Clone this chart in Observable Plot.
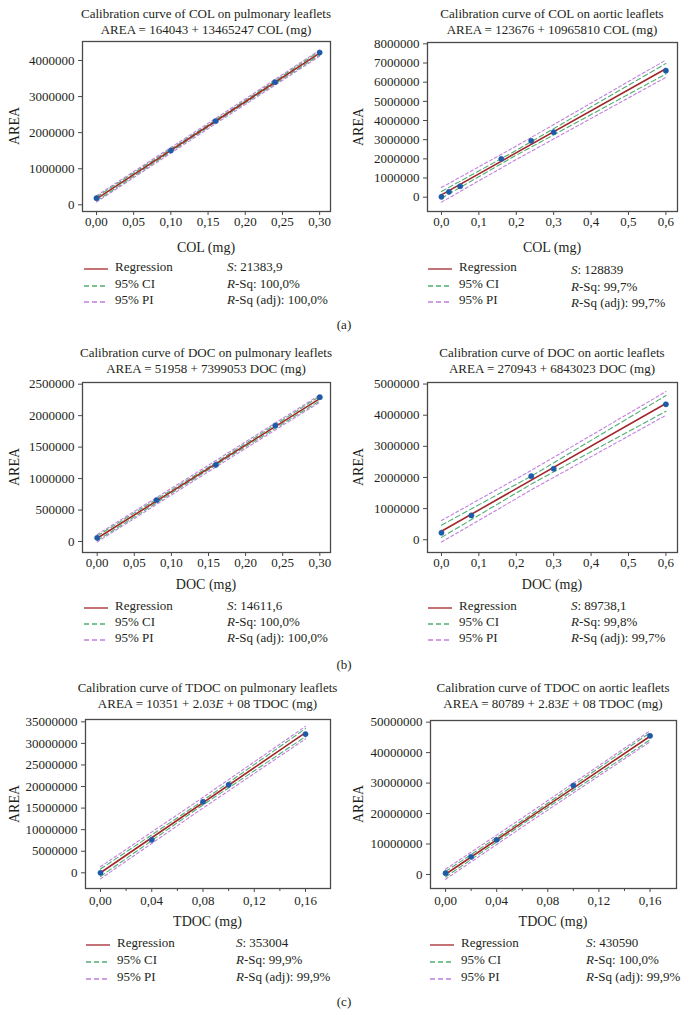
<!DOCTYPE html>
<html><head><meta charset="utf-8">
<script src="https://cdn.jsdelivr.net/npm/d3@7"></script>
<script src="https://cdn.jsdelivr.net/npm/@observablehq/plot@0.6"></script>
<style>
body{margin:0;background:#fff;}
#root{position:relative;width:688px;height:1028px;overflow:hidden;font-family:"Liberation Serif","Times New Roman",serif;color:#231f20;background:#fff;}
.abs{position:absolute;white-space:nowrap;}
.title{font-size:13px;line-height:16px;text-align:center;}
.axl{font-size:14px;line-height:16px;text-align:center;}
.leg{font-size:13px;line-height:16px;}
.plotbox{position:absolute;}
</style></head><body><div id="root"></div>
<script>
// ---------- data ----------
const titles = [
  "Calibration curve of COL on pulmonary leaflets",
  "Calibration curve of COL on aortic leaflets",
  "Calibration curve of DOC on pulmonary leaflets",
  "Calibration curve of DOC on aortic leaflets",
  "Calibration curve of TDOC on pulmonary leaflets",
  "Calibration curve of TDOC on aortic leaflets"
];
const equations = [
  "AREA = 164043 + 13465247 COL (mg)",
  "AREA = 123676 + 10965810 COL (mg)",
  "AREA = 51958 + 7399053 DOC (mg)",
  "AREA = 270943 + 6843023 DOC (mg)",
  "AREA = 10351 + 2.03E + 08 TDOC (mg)",
  "AREA = 80789 + 2.83E + 08 TDOC (mg)"
];
const xLabels = ["COL (mg)", "COL (mg)", "DOC (mg)", "DOC (mg)", "TDOC (mg)", "TDOC (mg)"];
const yLabel = "AREA";
const panelTags = ["(a)", "(b)", "(c)"];
const intercepts = [164043, 123676, 51958, 270943, 10351, 80789];
const slopes = [13465247, 10965810, 7399053, 6843023, 2.03e8, 2.83e8];

// measured calibration points
const colPulmX = [0, 0.10, 0.16, 0.24, 0.30];
const colPulmY = [185000, 1506000, 2320000, 3400000, 4220000];
const colAortX = [0, 0.02, 0.05, 0.16, 0.24, 0.30, 0.60];
const colAortY = [20000, 280000, 570000, 2000000, 2940000, 3390000, 6600000];
const docPulmX = [0, 0.08, 0.16, 0.24, 0.30];
const docPulmY = [58000, 657000, 1218000, 1843000, 2293000];
const docAortX = [0, 0.08, 0.24, 0.30, 0.60];
const docAortY = [225000, 780000, 2040000, 2280000, 4350000];
const tdocPulmX = [0, 0.04, 0.08, 0.10, 0.16];
const tdocPulmY = [0, 7650000, 16460000, 20400000, 32150000];
const tdocAortX = [0, 0.02, 0.04, 0.10, 0.16];
const tdocAortY = [440000, 5800000, 11400000, 29200000, 45500000];

// half-widths of the 95% CI / PI bands read at [first x, mean x, last x]
const bandX = [[0, 0.16, 0.30], [0, 0.196, 0.60], [0, 0.156, 0.30], [0, 0.244, 0.60], [0, 0.076, 0.16], [0, 0.064, 0.16]];
const ciHalf = [[55000, 30000, 51000], [175000, 125000, 275000], [37000, 21000, 35000], [196000, 127000, 253000], [860000, 500000, 925000], [910000, 610000, 1180000]];
const piHalf = [[87000, 74000, 84000], [380000, 350000, 450000], [59000, 51000, 58000], [346000, 312000, 381000], [1410000, 1230000, 1455000], [1640000, 1500000, 1810000]];

// statistics
const sValues = ["21383,9", "128839", "14611,6", "89738,1", "353004", "430590"];
const rSq = ["100,0%", "99,7%", "100,0%", "99,8%", "99,9%", "100,0%"];
const rSqAdj = ["100,0%", "99,7%", "100,0%", "99,7%", "99,9%", "99,9%"];
const legendNames = ["Regression", "95% CI", "95% PI"];

// ticks
const yTicksList = [
  [0, 1000000, 2000000, 3000000, 4000000],
  [0, 1000000, 2000000, 3000000, 4000000, 5000000, 6000000, 7000000, 8000000],
  [0, 500000, 1000000, 1500000, 2000000, 2500000],
  [0, 1000000, 2000000, 3000000, 4000000, 5000000],
  [0, 5000000, 10000000, 15000000, 20000000, 25000000, 30000000, 35000000],
  [0, 10000000, 20000000, 30000000, 40000000, 50000000]
];
const xTicksPulm = [0, 0.05, 0.10, 0.15, 0.20, 0.25, 0.30];
const xTicksAort = [0, 0.1, 0.2, 0.3, 0.4, 0.5, 0.6];
const xTicksTdoc = [0, 0.04, 0.08, 0.12, 0.16];
const xMinorTdoc = [0.02, 0.06, 0.10, 0.14];

// ---------- layout ----------
const xsList = [colPulmX, colAortX, docPulmX, docAortX, tdocPulmX, tdocAortX];
const ysList = [colPulmY, colAortY, docPulmY, docAortY, tdocPulmY, tdocAortY];
const xTicksList = [xTicksPulm, xTicksAort, xTicksPulm, xTicksAort, xTicksTdoc, xTicksTdoc];
const xDecimals = [2, 1, 2, 1, 2, 2];
const frames = [
  {col: 0,   L: 82,  R: 330, T: 41,  B: 211, xd: [-0.0188, 0.3146], yd: [-185000, 4526000], t1: 14,  xl: 248, leg: [267, 284, 300], sx: 227, pad: 1},
  {col: 344, L: 427, R: 677, T: 42,  B: 211, xd: [-0.0373, 0.631],  yd: [-746000, 8070000], t1: 14,  xl: 248, leg: [267, 284, 300], sx: 571, pad: 1},
  {col: 0,   L: 82,  R: 330, T: 382, B: 552, xd: [-0.0198, 0.3144], yd: [-175000, 2527000], t1: 353, xl: 585, leg: [606, 622, 638], sx: 227, pad: 1},
  {col: 344, L: 427, R: 677, T: 382, B: 552, xd: [-0.0373, 0.631],  yd: [-410000, 5050000], t1: 353, xl: 585, leg: [606, 622, 638], sx: 571, pad: 1},
  {col: 0,   L: 85,  R: 330, T: 719, B: 888, xd: [-0.0117, 0.1795], yd: [-3640000, 35540000], t1: 688, xl: 922, leg: [943, 960, 977], sx: 236, pad: 3},
  {col: 344, L: 430, R: 676, T: 720, B: 888, xd: [-0.0118, 0.1807], yd: [-4600000, 50540000], t1: 688, xl: 922, leg: [943, 960, 977], sx: 586, pad: 3}
];
const tagY = [325, 665, 1002];

const C_REG = "#a3262a", C_CI = "#4fae72", C_PI = "#c17fe0", C_PT = "#1f5aa6";

const root = document.getElementById("root");
function addDiv(cls, html, style) {
  const d = document.createElement("div");
  d.className = "abs " + cls;
  d.innerHTML = html;
  Object.assign(d.style, style);
  root.appendChild(d);
  return d;
}

frames.forEach((f, i) => {
  const xs = xsList[i], ys = ysList[i];
  const pts = xs.map((x, k) => ({x, y: ys[k]}));
  const a = intercepts[i], b = slopes[i];
  const bx = bandX[i];
  const reg = [bx[0], bx[2]].map(x => ({x, y: a + b * x}));
  const band = (half, sign) => bx.map((x, k) => ({x, y: a + b * x + sign * half[i][k]}));
  const mt = 8, mb = 24;
  const fmtX = d => d.toFixed(xDecimals[i]).replace(".", ",");
  const marks = [
    Plot.line(band(piHalf, 1), {x: "x", y: "y", stroke: C_PI, strokeWidth: 1.1, strokeDasharray: "3,2.5"}),
    Plot.line(band(piHalf, -1), {x: "x", y: "y", stroke: C_PI, strokeWidth: 1.1, strokeDasharray: "3,2.5"}),
    Plot.line(band(ciHalf, 1), {x: "x", y: "y", stroke: C_CI, strokeWidth: 1.1, strokeDasharray: "5,3"}),
    Plot.line(band(ciHalf, -1), {x: "x", y: "y", stroke: C_CI, strokeWidth: 1.1, strokeDasharray: "5,3"}),
    Plot.line(reg, {x: "x", y: "y", stroke: C_REG, strokeWidth: 1.6}),
    Plot.dot(pts, {x: "x", y: "y", r: 2.6, fill: C_PT, stroke: C_PT, strokeWidth: 0.6}),
    Plot.frame({stroke: "#4a4a4a", strokeWidth: 1.3}),
    Plot.axisX({ticks: xTicksList[i], tickFormat: fmtX, tickSize: 4, tickPadding: f.pad, label: null, stroke: "#4a4a4a"}),
    Plot.axisY({ticks: yTicksList[i], tickFormat: d3.format("d"), tickSize: 4, tickPadding: 4, label: null, stroke: "#4a4a4a"})
  ];
  if (i >= 4) marks.push(Plot.axisX({ticks: xMinorTdoc, tickFormat: () => "", tickSize: 3, label: null, stroke: "#4a4a4a"}));
  const chart = Plot.plot({
    width: 344,
    height: (f.B - f.T) + mt + mb,
    marginTop: mt, marginBottom: mb,
    marginLeft: f.L - f.col, marginRight: f.col + 344 - f.R,
    style: {fontFamily: '"Liberation Serif", "Times New Roman", serif', fontSize: "13px", background: "transparent", color: "#231f20", overflow: "visible"},
    x: {domain: f.xd},
    y: {domain: f.yd},
    marks
  });
  const box = document.createElement("div");
  box.className = "plotbox";
  box.style.left = f.col + "px";
  box.style.top = (f.T - mt) + "px";
  box.appendChild(chart);
  root.appendChild(box);

  // titles
  const cx = (f.L + f.R) / 2;
  addDiv("title", titles[i] + "<br>" + equations[i].replace(/(\d)E/, "$1<i>E</i>"),
    {left: (cx - 160) + "px", width: "320px", top: (f.t1 - 8) + "px"});
  // axis labels
  addDiv("axl", xLabels[i], {left: (cx - 60) + "px", width: "120px", top: (f.xl - 8) + "px"});
  addDiv("axl", yLabel, {left: (f.col + 15 - 30) + "px", width: "60px", top: ((f.T + f.B) / 2 - 8) + "px", transform: "rotate(-90deg)"});
  // legend
  const lx = f.col + (i >= 4 ? 86 : 84);
  const colors = [C_REG, C_CI, C_PI];
  const dashes = ["", "5,3", "5,3"];
  legendNames.forEach((name, k) => {
    const y = f.leg[k];
    addDiv("leg", `<svg width="24" height="4"><line x1="0" x2="24" y1="2" y2="2" stroke="${colors[k]}" stroke-width="1.3" ${dashes[k] ? `stroke-dasharray="${dashes[k]}"` : ""}/></svg>`,
      {left: lx + "px", top: (y - 2) + "px", lineHeight: "4px"});
    addDiv("leg", name, {left: (lx + 31) + "px", top: (y - 8) + "px"});
  });
  const sy = i === 1 ? 3 : 0;
  addDiv("leg", `<i>S</i>: ${sValues[i]}`, {left: f.sx + "px", top: (f.leg[0] - 8 + sy) + "px"});
  addDiv("leg", `<i>R</i>-Sq: ${rSq[i]}`, {left: f.sx + "px", top: (f.leg[1] - 8 + sy) + "px"});
  addDiv("leg", `<i>R</i>-Sq (adj): ${rSqAdj[i]}`, {left: f.sx + "px", top: (f.leg[2] - 8 + sy) + "px"});
});

panelTags.forEach((t, k) => {
  addDiv("leg", t, {left: "314px", width: "60px", textAlign: "center", top: (tagY[k] - 8) + "px"});
});
</script>
</body></html>
